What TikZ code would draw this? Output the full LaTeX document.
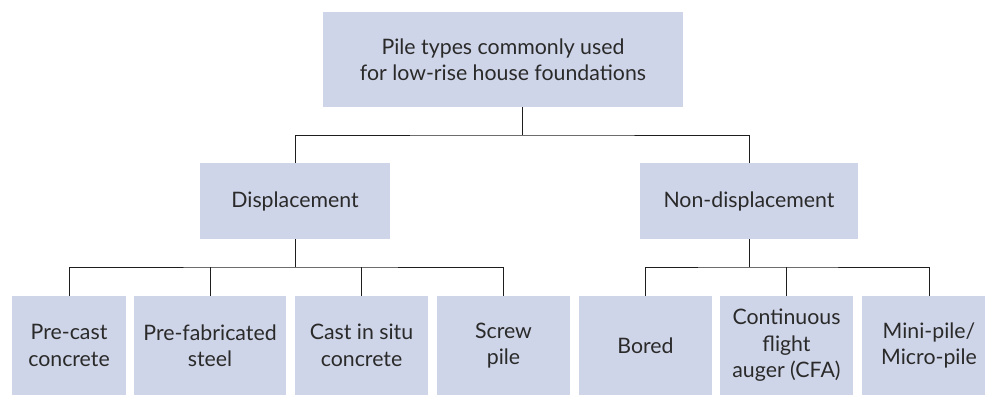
\documentclass[tikz,border=0pt]{standalone}
\usepackage{fontspec}
\setmainfont{Lato}
\definecolor{boxfill}{HTML}{CFD5E8}
\definecolor{txt}{HTML}{2A2A2A}
\definecolor{lin}{HTML}{1E1E1E}
\begin{document}
\begin{tikzpicture}[x=1pt,y=1pt,
  pbox/.style={fill=boxfill, draw=none, inner sep=0pt, align=center, text=txt,
    font=\fontsize{21.3}{26.5}\selectfont, minimum height=#1},
  pbox/.default=76,
  conn/.style={draw=lin, line width=0.9pt}]
\useasboundingbox (0,0) rectangle (985,-396);
\node[pbox=95, minimum width=360] (top) at (503,-59.5) {Pile types commonly used\\for low-rise house foundations};
\node[pbox, minimum width=190] (disp) at (295,-201) {Displacement};
\node[pbox, minimum width=218] (nond) at (749,-201) {Non-displacement};
\node[pbox=99, minimum width=114] (b1) at (69,-345.5) {Pre-cast\\concrete};
\node[pbox=99, minimum width=152] (b2) at (210,-345.5) {Pre-fabricated\\steel};
\node[pbox=99, minimum width=133] (b3) at (361.5,-345.5) {Cast in situ\\concrete};
\node[pbox=99, minimum width=133] (b4) at (503.5,-345.5) {Screw\\pile};
\node[pbox=99, minimum width=133] (b5) at (645.5,-345.5) {Bored};
\node[pbox=99, minimum width=133] (b6) at (786.5,-345.5) {Continuous\\flight\\auger (CFA)};
\node[pbox=99, minimum width=134] (b7) at (929,-345.5) {Mini-pile/\\Micro-pile};
\coordinate (j0) at (522,-135);
\coordinate (j1) at (295,-267);
\coordinate (j2) at (749,-267);
\draw[conn] (j0 |- top.south) -- (j0);
\draw[conn] (disp.north) |- (j0) -| (nond.north);
\draw[conn] (disp.south) -- (j1);
\draw[conn] (b1.north) |- (j1) -| (b4.north);
\draw[conn] (b2.north) -- (b2.north |- j1);
\draw[conn] (b3.north) -- (b3.north |- j1);
\draw[conn] (nond.south) -- (j2);
\draw[conn] (b5.north) |- (j2) -| (b7.north);
\draw[conn] (b6.north) -- (b6.north |- j2);
\end{tikzpicture}
\end{document}
